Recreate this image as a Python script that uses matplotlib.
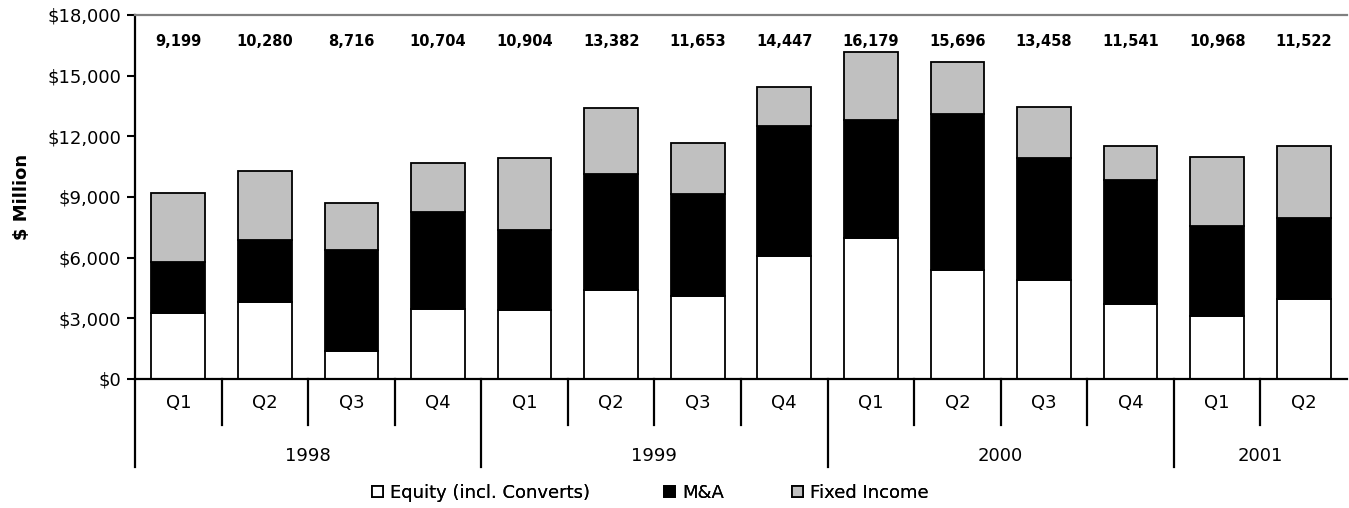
import itertools

import matplotlib
matplotlib.use("Agg")
import matplotlib.pyplot as plt
from matplotlib.patches import Patch
from matplotlib.ticker import FuncFormatter

QUARTERS = ["Q1", "Q2", "Q3", "Q4"] * 3 + ["Q1", "Q2"]
YEARS = ["1998"] * 4 + ["1999"] * 4 + ["2000"] * 4 + ["2001"] * 2

TOTALS = [9199, 10280, 8716, 10704, 10904, 13382, 11653,
          14447, 16179, 15696, 13458, 11541, 10968, 11522]
EQUITY = [3250, 3820, 1370, 3450, 3430, 4420, 4120,
          6080, 6990, 5410, 4910, 3720, 3130, 3940]
MNA = [2520, 3050, 5010, 4810, 3940, 5720, 5030,
       6430, 5820, 7700, 6020, 6120, 4440, 4020]
FIXED_INCOME = [3429, 3410, 2336, 2444, 3534, 3242, 2503,
                1937, 3369, 2586, 2528, 1701, 3398, 3562]

SERIES = [
    ("Equity (incl. Converts)", EQUITY, "white"),
    ("M&A", MNA, "black"),
    ("Fixed Income", FIXED_INCOME, "#c0c0c0"),
]

plt.rcParams["font.family"] = ["DejaVu Sans"]

fig = plt.figure(figsize=(13.49, 5.08), dpi=100)
ax = fig.add_axes([135 / 1349, 1 - 379 / 508, 1212 / 1349, 364 / 508])

x = range(len(QUARTERS))
bottom = [0] * len(QUARTERS)
for name, vals, color in SERIES:
    ax.bar(x, vals, bottom=bottom, width=0.62, color=color,
           edgecolor="black", linewidth=1.3, zorder=2)
    bottom = [b + v for b, v in zip(bottom, vals)]

# totals along the top
for i, tot in enumerate(TOTALS):
    ax.text(i, 0.926, f"{tot:,}", transform=ax.get_xaxis_transform(),
            ha="center", va="center", fontsize=10.5, fontweight="bold")

ax.set_xlim(-0.5, len(QUARTERS) - 0.5)
ax.set_ylim(0, 18000)
ax.set_yticks(range(0, 18001, 3000))
ax.yaxis.set_major_formatter(FuncFormatter(lambda v, _: f"${v:,.0f}"))
ax.tick_params(axis="y", length=6, width=1.5, labelsize=13, pad=4)
ax.set_xticks([])

ax.spines["right"].set_visible(False)
ax.spines["top"].set_color("#808080")
ax.spines["top"].set_linewidth(1.6)
ax.spines["left"].set_linewidth(1.6)
ax.spines["bottom"].set_linewidth(1.6)

ax.set_ylabel("$ Million", fontsize=13, fontweight="bold", labelpad=12)

# two-level category axis
trans = ax.get_xaxis_transform()
q_depth, y_depth = -46 / 364, -88 / 364
for i, q in enumerate(QUARTERS):
    ax.text(i, -0.066, q, transform=trans, ha="center", va="center",
            fontsize=13)

pos = 0
year_edges = [-0.5]
for year, grp in itertools.groupby(YEARS):
    n = len(list(grp))
    ax.text(pos + (n - 1) / 2, -0.212, year, transform=trans,
            ha="center", va="center", fontsize=13)
    pos += n
    year_edges.append(pos - 0.5)

for i in range(len(QUARTERS) - 1):
    edge = i + 0.5
    depth = y_depth if edge in year_edges else q_depth
    ax.plot([edge, edge], [0, depth], transform=trans, color="black",
            lw=1.6, clip_on=False)
ax.plot([-0.5, -0.5], [0, y_depth], transform=trans, color="black",
        lw=1.6, clip_on=False)

# legend entries laid out like the original
legend_x = [372 / 1349, 664 / 1349, 792 / 1349]
for (name, vals, color), lx in zip(SERIES, legend_x):
    leg = fig.legend(handles=[Patch(facecolor=color, edgecolor="black",
                                    linewidth=1.3, label=name)],
                     loc="center left", bbox_to_anchor=(lx, 0.03),
                     frameon=False, fontsize=13, handlelength=0.6,
                     handleheight=0.6, handletextpad=0.4, borderpad=0,
                     borderaxespad=0)
    fig.add_artist(leg)

fig.savefig("out.png", dpi=100)
